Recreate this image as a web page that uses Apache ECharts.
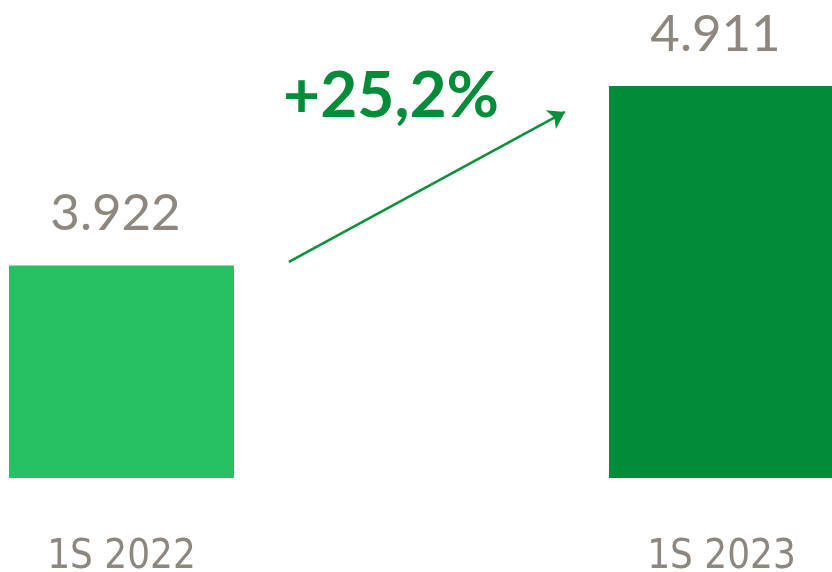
<!DOCTYPE html>
<html>
<head>
<meta charset="utf-8">
<script src="https://cdn.jsdelivr.net/npm/echarts@6/dist/echarts.min.js"></script>
<style>html,body{margin:0;padding:0;background:#fff}#c{width:832px;height:572px}</style>
</head>
<body>
<div id="c"></div>
<script>
const categories = ['1S 2022', '1S 2023'];
const values = [3922, 4911];
const valueLabels = ['3.922', '4.911'];
const growthLabel = '+25,2%';
const arrowFrom = [0.779, 3941];
const arrowTo = [1.239, 4768];

const barColors = ['#27C062', '#028B38'];
const chart = echarts.init(document.getElementById('c'));
chart.setOption({
  animation: false,
  grid: { left: -178.5, width: 1200, top: 0, bottom: 94, containLabel: false, outerBoundsMode: 'none' },
  xAxis: [{
    type: 'category', data: categories,
    axisLine: { show: false }, axisTick: { show: false },
    axisLabel: { margin: 60, color: '#8E8780', fontSize: 40, fontFamily: "'DejaVu Sans Condensed', 'DejaVu Sans', sans-serif", fontWeight: 'normal', verticalAlign: 'top', align: 'center', interval: 0 }
  }, {
    type: 'value', min: 0, max: 2, show: false
  }],
  yAxis: { type: 'value', min: 2750, max: 5385, show: false, splitLine: { show: false } },
  series: [{
    type: 'bar', barWidth: 225,
    data: values.map((v, i) => ({ value: v, itemStyle: { color: barColors[i] },
      label: { formatter: valueLabels[i] } })),
    label: { show: true, position: 'top', distance: 26, offset: [-6, 0], color: '#8E8780', fontSize: 51, fontFamily: 'Lato', fontWeight: 'normal' }
  }, {
    type: 'lines', coordinateSystem: 'cartesian2d', xAxisIndex: 1,
    symbol: ['none', 'arrow'], symbolSize: 16,
    lineStyle: { color: '#0A8F3C', width: 2.5, opacity: 1 },
    data: [{ coords: [arrowFrom, arrowTo] }]
  }],
  graphic: [{
    type: 'text', x: 391, y: 128,
    style: { text: growthLabel, fill: '#028B38', font: 'bold 64px Lato', textAlign: 'center', textVerticalAlign: 'bottom' }
  }]
});
</script>
</body>
</html>
